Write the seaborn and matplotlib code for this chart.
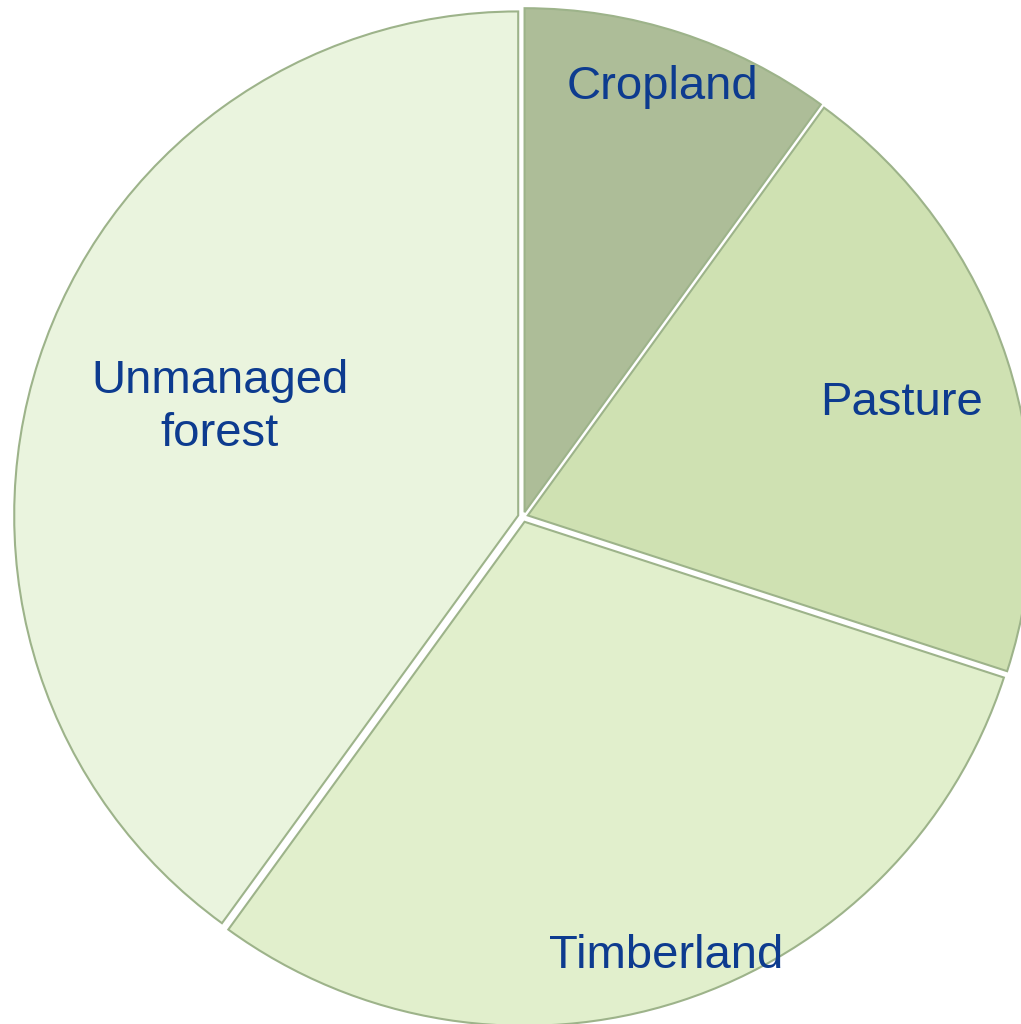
import matplotlib
matplotlib.use("Agg")
import matplotlib.pyplot as plt
import seaborn as sns
import numpy as np

# Land use shares (percent)
categories = ["Cropland", "Pasture", "Timberland", "Unmanaged\nforest"]
shares = [10, 20, 30, 40]
colors = ["#ADBD98", "#CFE1B2", "#E1EFCC", "#EAF4DE"]

# label placement: radius as a fraction of the pie radius, plus a small
# angular nudge (degrees, counter-clockwise) from the wedge's mid-angle
label_radius = [0.898, 0.785, 0.916, 0.639]
label_nudge = [0.0, -1.3, 0.0, -1.8]

sns.set_theme(style="white")
plt.rcParams["font.family"] = ["Liberation Sans", "DejaVu Sans"]

fig = plt.figure(figsize=(10.21, 10.24), dpi=100)
ax = fig.add_axes([0, 0, 1, 1])

wedges, _ = ax.pie(
    shares,
    colors=colors,
    startangle=90,
    counterclock=False,
    explode=[0.01] * len(shares),
    wedgeprops=dict(edgecolor="#9DB38A", linewidth=1.5),
)

for w, lab, rf, nd in zip(wedges, categories, label_radius, label_nudge):
    mid = np.deg2rad((w.theta1 + w.theta2) / 2.0 + nd)
    ax.text(rf * np.cos(mid), rf * np.sin(mid), lab,
            ha="center", va="center", fontsize=34, color="#0D3B8F",
            linespacing=1.27)

# pixel layout: pie centre at (523, 517), radius 504 px
cx, cy, R = 523, 517, 504
ax.set_xlim(-cx / R, (1021 - cx) / R)
ax.set_ylim(-(1024 - cy) / R, cy / R)
ax.set_aspect("auto")
ax.axis("off")

fig.savefig("out.png", dpi=100, facecolor="white")
